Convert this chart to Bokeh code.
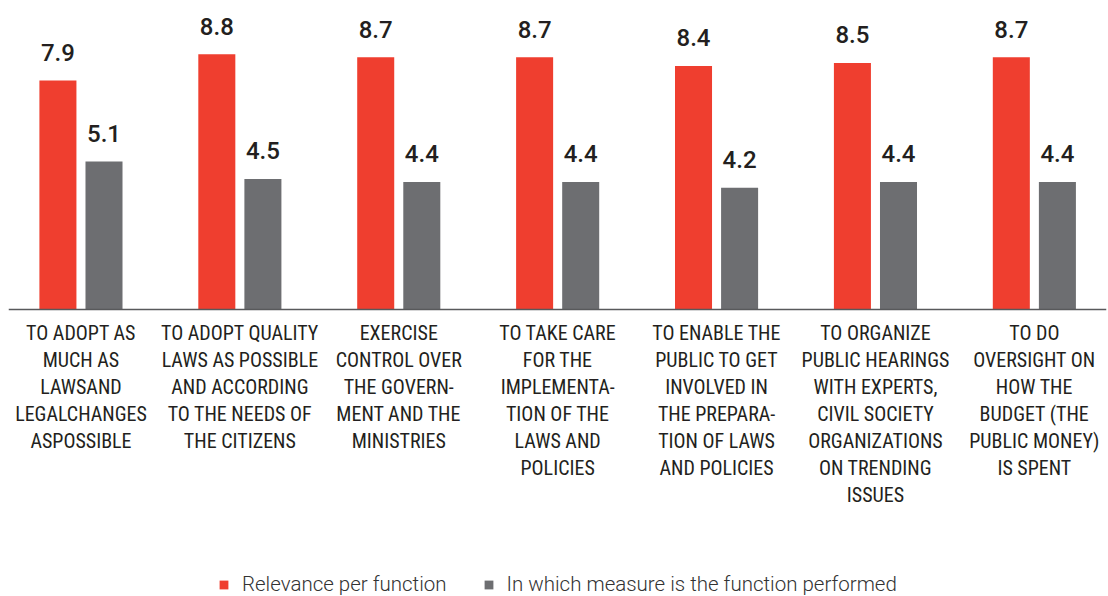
from bokeh.plotting import figure
from bokeh.models import ColumnDataSource, FixedTicker, Legend, LegendItem, Range1d
from bokeh.transform import dodge
from bokeh.core.properties import value
from bokeh.embed import file_html
from bokeh.resources import INLINE

categories = [
    "TO ADOPT AS\nMUCH AS\nLAWSAND\nLEGALCHANGES\nASPOSSIBLE",
    "TO ADOPT QUALITY\nLAWS AS POSSIBLE\nAND ACCORDING\nTO THE NEEDS OF\nTHE CITIZENS",
    "EXERCISE\nCONTROL OVER\nTHE GOVERN-\nMENT AND THE\nMINISTRIES",
    "TO TAKE CARE\nFOR THE\nIMPLEMENTA-\nTION OF THE\nLAWS AND\nPOLICIES",
    "TO ENABLE THE\nPUBLIC TO GET\nINVOLVED IN\nTHE PREPARA-\nTION OF LAWS\nAND POLICIES",
    "TO ORGANIZE\nPUBLIC HEARINGS\nWITH EXPERTS,\nCIVIL SOCIETY\nORGANIZATIONS\nON TRENDING\nISSUES",
    "TO DO\nOVERSIGHT ON\nHOW THE\nBUDGET (THE\nPUBLIC MONEY)\nIS SPENT",
]
relevance = [7.9, 8.8, 8.7, 8.7, 8.4, 8.5, 8.7]
performed = [5.1, 4.5, 4.4, 4.4, 4.2, 4.4, 4.4]
series_names = ["Relevance per function", "In which measure is the function performed"]

RED = "#EF3E2F"
GRAY = "#6D6E71"
TXT = "#231F20"

idx = list(range(len(categories)))
src = ColumnDataSource(dict(
    idx=idx,
    rel=relevance,
    perf=performed,
    rel_lbl=[f"{v:.1f}" for v in relevance],
    perf_lbl=[f"{v:.1f}" for v in performed],
))

p = figure(width=1108, height=596, output_backend="svg", toolbar_location=None,
           x_range=Range1d(-0.456, 6.454), y_range=Range1d(-9.897, 10.655),
           y_axis_location=None,
           min_border_left=8, min_border_right=2, min_border_top=0, min_border_bottom=0)
p.outline_line_color = None
p.grid.visible = False
p.background_fill_color = "white"
p.border_fill_color = "white"

off = 0.145
w = 0.233
r1 = p.vbar(x=dodge("idx", -off), top="rel", width=w, bottom=0, source=src,
            fill_color=RED, line_color=None)
r2 = p.vbar(x=dodge("idx", off), top="perf", width=w, bottom=0, source=src,
            fill_color=GRAY, line_color=None)

for col, lbl, dx in (("rel", "rel_lbl", -off), ("perf", "perf_lbl", off)):
    p.text(x=dodge("idx", dx), y=col, text=lbl, source=src,
           text_align="center", text_baseline="alphabetic", y_offset=-28,
           text_font=value("Roboto Medium, Roboto"), text_font_size="24px",
           text_color=TXT, text_font_style="normal")

ax = p.xaxis[0]
ax.fixed_location = 0
ax.ticker = FixedTicker(ticks=idx)
ax.major_label_overrides = {i: c for i, c in enumerate(categories)}
ax.major_label_text_font = "Roboto Condensed, DejaVu Sans Condensed, Liberation Sans Narrow, Roboto"
ax.major_label_text_font_size = "20px"
ax.major_label_text_color = TXT
ax.major_label_text_line_height = 1.12
ax.major_label_standoff = 6
ax.major_tick_line_color = None
ax.minor_tick_line_color = None
ax.axis_line_color = "#58595B"
ax.axis_line_width = 1.5

legend = Legend(items=[LegendItem(label=series_names[0], renderers=[r1]),
                       LegendItem(label=series_names[1], renderers=[r2])],
                orientation="horizontal", location=(210, 0),
                glyph_width=11, glyph_height=11, label_standoff=13, spacing=36,
                padding=0, margin=0, border_line_color=None, background_fill_alpha=0,
                label_text_font="Roboto Light, Roboto", label_text_font_size="20.5px",
                label_text_color="#333333", label_height=20)
p.add_layout(legend, "center")

open("out.html", "w").write(file_html(p, INLINE))
